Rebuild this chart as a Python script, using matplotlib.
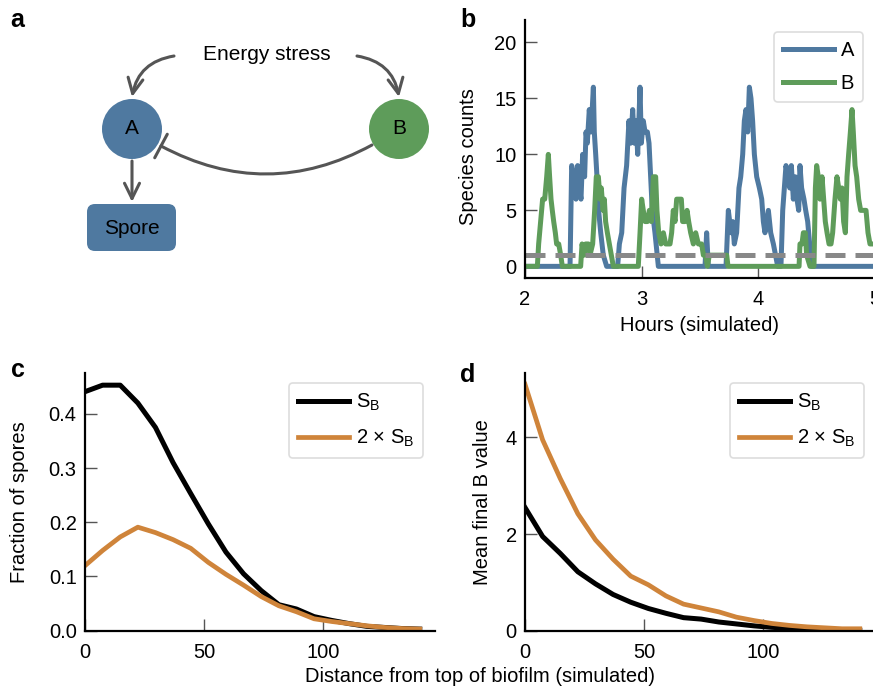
import numpy as np
import matplotlib
matplotlib.use('Agg')
import matplotlib.pyplot as plt
from matplotlib.patches import Circle, FancyBboxPatch, FancyArrowPatch

plt.rcParams['font.family'] = ['Liberation Sans', 'DejaVu Sans']
plt.rcParams['font.size'] = 14.5
FS = 14.5

# colours
BLUE = '#4f79a0'
GREEN = '#5e9c5a'
ORANGE = '#cf843a'
GREY = '#555555'

# panel b: simulated species counts (hours, counts)
t_a = [2.000, 2.386, 2.400, 2.420, 2.437, 2.451, 2.466, 2.480, 2.494, 2.511, 2.523, 2.534,
       2.551, 2.566, 2.586, 2.594, 2.606, 2.617, 2.631, 2.649, 2.671, 2.700, 2.794, 2.809,
       2.829, 2.849, 2.871, 2.891, 2.906, 2.923, 2.937, 2.951, 2.966, 2.986, 2.997, 3.014,
       3.029, 3.049, 3.063, 3.077, 3.091, 3.114, 3.143, 3.543, 3.557, 3.571, 3.723, 3.743,
       3.766, 3.780, 3.794, 3.814, 3.834, 3.849, 3.866, 3.880, 3.894, 3.909, 3.923, 3.937,
       3.951, 3.966, 3.986, 4.009, 4.029, 4.043, 4.057, 4.086, 4.106, 4.129, 4.166, 4.194,
       4.209, 4.223, 4.237, 4.254, 4.269, 4.283, 4.300, 4.317, 4.331, 4.346, 4.357, 4.371,
       4.391, 4.406, 4.423, 4.440, 4.457, 5.000]
n_a = [0, 0, 9, 8, 6, 9, 7, 6, 10, 8, 12, 11,
       14, 12, 16, 12, 10, 8, 5, 3, 1, 0, 0, 2,
       3, 7, 9, 13, 11, 14, 11, 13, 10, 16, 11, 13,
       12, 12, 11, 8, 5, 3, 0, 0, 3, 0, 0, 5,
       3, 4, 2, 3, 7, 8, 10, 13, 14, 12, 16, 15,
       13, 10, 8, 7, 6, 4, 3, 5, 3, 2, 0, 0,
       5, 7, 9, 8, 7, 9, 6, 8, 6, 5, 9, 7,
       6, 5, 4, 2, 0, 0]

t_b = [2.000, 2.106, 2.117, 2.134, 2.151, 2.169, 2.186, 2.200, 2.211, 2.223, 2.234, 2.246,
       2.260, 2.271, 2.289, 2.306, 2.320, 2.477, 2.489, 2.506, 2.520, 2.543, 2.557, 2.580,
       2.597, 2.611, 2.629, 2.643, 2.654, 2.669, 2.680, 2.691, 2.706, 2.723, 2.740, 2.757,
       2.971, 2.986, 3.000, 3.014, 3.029, 3.049, 3.066, 3.083, 3.100, 3.120, 3.131, 3.146,
       3.166, 3.186, 3.206, 3.243, 3.257, 3.271, 3.286, 3.300, 3.340, 3.351, 3.371, 3.389,
       3.403, 3.420, 3.443, 3.463, 3.486, 3.514, 3.529, 3.549, 3.563, 3.580, 3.729, 3.740,
       4.349, 4.357, 4.374, 4.386, 4.403, 4.414, 4.443, 4.477, 4.489, 4.500, 4.514, 4.529,
       4.546, 4.560, 4.574, 4.589, 4.606, 4.623, 4.637, 4.657, 4.674, 4.689, 4.703, 4.717,
       4.731, 4.746, 4.760, 4.774, 4.789, 4.803, 4.814, 4.829, 4.843, 4.860, 4.877, 4.923,
       4.940, 4.957, 5.000]
n_b = [0, 0, 2, 4, 6, 6, 8, 10, 8, 6, 5, 4,
       3, 2, 2, 1, 0, 0, 2, 1, 2, 2, 1, 2,
       5, 8, 8, 6, 7, 5, 6, 4, 3, 2, 1, 0,
       0, 3, 6, 5, 4, 4, 5, 4, 8, 8, 5, 3,
       2, 3, 2, 2, 3, 5, 4, 6, 6, 4, 4, 5,
       4, 3, 2, 3, 2, 2, 1, 1, 0, 1, 1, 0,
       0, 2, 2, 3, 3, 1, 0, 0, 7, 9, 8, 6,
       8, 6, 4, 3, 2, 2, 3, 6, 8, 7, 6, 7,
       4, 3, 8, 10, 12, 14, 12, 9, 8, 6, 5, 5,
       3, 2, 2]
threshold = 1

# panels c, d: distance from top of biofilm
distance = [0, 7.4, 14.8, 22.2, 29.6, 37.0, 44.4, 51.8, 59.2, 66.6,
            74.0, 81.4, 88.8, 96.2, 103.6, 111.0, 118.4, 125.8, 133.2, 140.6]
spores_sb = [0.441, 0.453, 0.453, 0.420, 0.375, 0.310, 0.253, 0.197, 0.145, 0.105,
             0.074, 0.048, 0.040, 0.026, 0.019, 0.013, 0.008, 0.006, 0.004, 0.003]
spores_2sb = [0.120, 0.148, 0.173, 0.191, 0.181, 0.168, 0.152, 0.126, 0.104, 0.084,
              0.063, 0.046, 0.035, 0.022, 0.017, 0.013, 0.009, 0.006, 0.004, 0.003]
bval_sb = [2.55, 1.95, 1.60, 1.22, 0.97, 0.75, 0.59, 0.46, 0.36, 0.27,
           0.24, 0.18, 0.14, 0.10, 0.07, 0.05, 0.03, 0.02, 0.015, 0.01]
bval_2sb = [5.10, 3.95, 3.15, 2.42, 1.88, 1.48, 1.13, 0.95, 0.72, 0.55,
            0.47, 0.39, 0.28, 0.21, 0.15, 0.11, 0.08, 0.06, 0.04, 0.04]

labels_cd = [r'S$\mathregular{_B}$', r'2 × S$\mathregular{_B}$']

W, H = 873, 689
fig = plt.figure(figsize=(W / 100, H / 100), dpi=100)


def box(left, top, width, height):
    return [left / W, 1 - (top + height) / H, width / W, height / H]


def style(ax):
    for s in ['top', 'right']:
        ax.spines[s].set_visible(False)
    for s in ['left', 'bottom']:
        ax.spines[s].set_linewidth(1.6)
    ax.tick_params(direction='in', length=8.5, width=1, color='#555555', labelsize=FS)
    ax.tick_params(axis='x', pad=8.5)
    ax.tick_params(axis='y', pad=6)


def legend(ax, anchor):
    leg = ax.legend(loc='upper right', bbox_to_anchor=anchor, borderaxespad=0,
                    handlelength=2.5, handletextpad=0.35, labelspacing=0.72,
                    fontsize=FS, frameon=True, fancybox=True, framealpha=1,
                    borderpad=0.45)
    leg.get_frame().set_edgecolor('#dddddd')
    leg.get_frame().set_linewidth(1.2)
    return leg


def panel_label(x, y, s):
    fig.text(x / W, 1 - y / H, s, fontsize=18, fontweight='bold', ha='center', va='center')


# ---- panel a: diagram
ax_a = fig.add_axes(box(0, 0, 450, 300))
ax_a.set_xlim(0, 450)
ax_a.set_ylim(300, 0)
ax_a.axis('off')
ax_a.add_patch(Circle((132, 129), 30, fc=BLUE, ec='none'))
ax_a.add_patch(Circle((399, 129), 30, fc=GREEN, ec='none'))
ax_a.add_patch(FancyBboxPatch((87, 204), 89, 47, boxstyle='round,pad=0,rounding_size=8',
                              fc=BLUE, ec='none'))
ax_a.text(132, 129, 'A', ha='center', va='center', fontsize=15)
ax_a.text(399, 129, 'B', ha='center', va='center', fontsize=15)
ax_a.text(131.5, 228, 'Spore', ha='center', va='center', fontsize=15)
ax_a.text(267, 54, 'Energy stress', ha='center', va='center', fontsize=15)

head = '->,head_length=0.55,head_width=0.27'
for p0, p1, rad in [((174, 56), (132, 97), 0.35),
                    ((357, 56), (399, 97), -0.35),
                    ((132, 161), (132, 202), 0.0)]:
    ax_a.add_patch(FancyArrowPatch(p0, p1, arrowstyle=head, mutation_scale=20,
                                   connectionstyle='arc3,rad=%s' % rad,
                                   color=GREY, lw=2.2, shrinkA=0, shrinkB=0))
ax_a.add_patch(FancyArrowPatch((372, 145), (161, 146), arrowstyle='-[,widthB=0.48,lengthB=0',
                               mutation_scale=20, connectionstyle='arc3,rad=-0.27',
                               color=GREY, lw=2.2, shrinkA=0, shrinkB=0))
panel_label(17, 20, 'a')

# ---- panel b
ax_b = fig.add_axes(box(525, 20, 350, 258))
ax_b.plot(t_a, n_a, color=BLUE, lw=3.6, label='A')
ax_b.plot(t_b, n_b, color=GREEN, lw=3.6, label='B')
ax_b.axhline(threshold, color='#888888', lw=3.6, dashes=(4, 2))
ax_b.set_xlim(2, 5)
ax_b.set_ylim(-1.04, 22)
ax_b.set_xticks([2, 3, 4, 5])
ax_b.set_yticks([0, 5, 10, 15, 20])
style(ax_b)
ax_b.set_xlabel('Hours (simulated)', fontsize=FS)
ax_b.set_ylabel('Species counts', fontsize=FS)
ax_b.xaxis.set_label_coords(0.5, -0.147)
ax_b.yaxis.set_label_coords(-0.134, 0.47)
legend(ax_b, (0.966, 0.955))
panel_label(468, 20, 'b')

# ---- panel c
ax_c = fig.add_axes(box(85, 372.7, 350, 258))
ax_c.plot(distance, spores_sb, color='black', lw=3.6, label=labels_cd[0])
ax_c.plot(distance, spores_2sb, color=ORANGE, lw=3.4, label=labels_cd[1])
ax_c.set_xlim(0, 147)
ax_c.set_ylim(0, 0.476)
ax_c.set_xticks([0, 50, 100])
ax_c.set_yticks([0.0, 0.1, 0.2, 0.3, 0.4])
ax_c.set_yticklabels(['0.0', '0.1', '0.2', '0.3', '0.4'])
style(ax_c)
ax_c.set_ylabel('Fraction of spores', fontsize=FS)
ax_c.yaxis.set_label_coords(-0.16, 0.5)
legend(ax_c, (0.966, 0.96))
panel_label(18, 370, 'c')

# ---- panel d
ax_d = fig.add_axes(box(525, 372.7, 350, 258))
ax_d.plot(distance, bval_sb, color='black', lw=3.6, label=labels_cd[0])
ax_d.plot(distance, bval_2sb, color=ORANGE, lw=3.4, label=labels_cd[1])
ax_d.set_xlim(0, 147)
ax_d.set_ylim(0, 5.34)
ax_d.set_xticks([0, 50, 100])
ax_d.set_yticks([0, 2, 4])
style(ax_d)
ax_d.set_ylabel('Mean final B value', fontsize=FS)
ax_d.yaxis.set_label_coords(-0.094, 0.5)
legend(ax_d, (0.969, 0.96))
panel_label(468, 375, 'd')

fig.text(480 / W, 1 - 677 / H, 'Distance from top of biofilm (simulated)', fontsize=FS,
         ha='center', va='center')

fig.savefig('out.png', dpi=100)
